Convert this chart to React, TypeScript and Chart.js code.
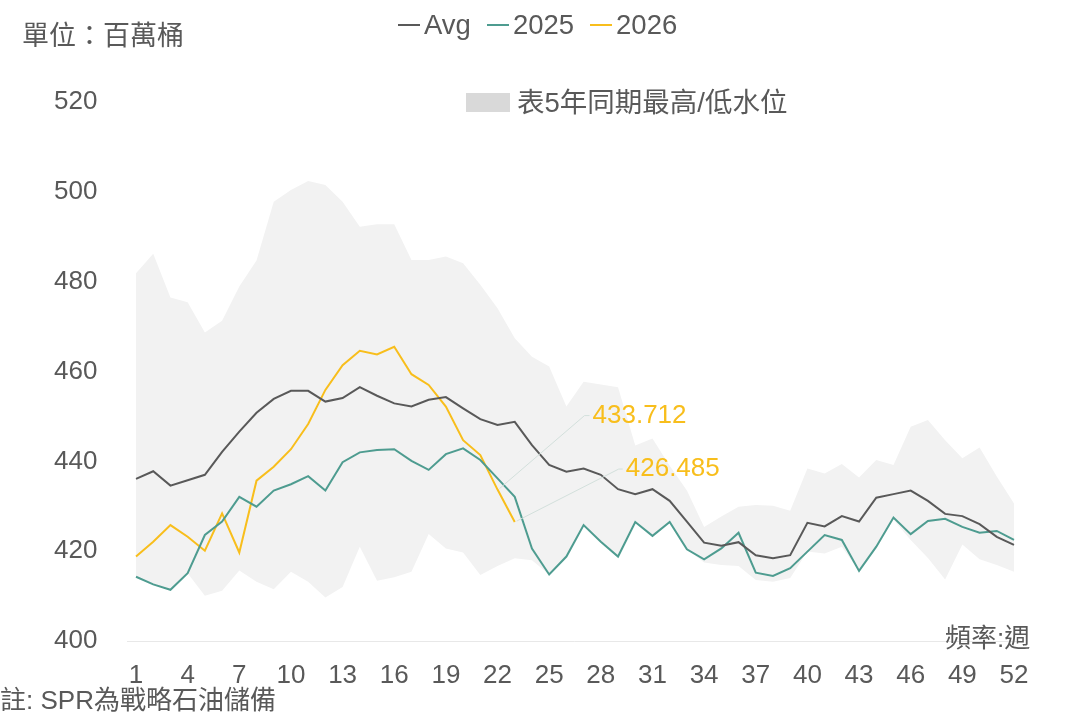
import React, { useEffect, useRef } from 'react';
import { Chart, registerables } from 'chart.js';

Chart.register(...registerables);

const weeks = ['1','2','3','4','5','6','7','8','9','10','11','12','13','14','15','16','17','18','19','20','21','22','23','24','25','26','27','28','29','30','31','32','33','34','35','36','37','38','39','40','41','42','43','44','45','46','47','48','49','50','51','52'];

const avgValues = [436.1, 437.8, 434.6, 435.8, 437.0, 442.1, 446.6, 450.8, 453.9, 455.7, 455.7, 453.3, 454.1, 456.5, 454.6, 452.9, 452.2, 453.7, 454.3, 451.8, 449.4, 448.1, 448.8, 443.6, 439.2, 437.7, 438.4, 437.0, 433.8, 432.7, 433.8, 431.2, 426.6, 421.9, 421.2, 422.0, 419.1, 418.4, 419.1, 426.3, 425.5, 427.8, 426.6, 431.9, 432.7, 433.5, 431.2, 428.3, 427.8, 426.0, 423.2, 421.4];

const values2025 = [414.3, 412.6, 411.4, 415.1, 423.6, 426.6, 432.1, 429.9, 433.5, 434.9, 436.7, 433.5, 439.8, 442.0, 442.5, 442.7, 440.1, 438.1, 441.6, 442.9, 440.3, 436.2, 432.1, 420.6, 414.8, 418.8, 425.8, 422.1, 418.8, 426.5, 423.4, 426.5, 420.4, 418.2, 420.6, 424.1, 415.2, 414.5, 416.2, 419.9, 423.6, 422.5, 415.6, 421.0, 427.5, 423.8, 426.7, 427.2, 425.4, 424.1, 424.5, 422.5];

const values2026 = [418.8, 422.1, 425.8, 423.2, 420.1, 428.4, 419.7, 435.7, 438.8, 442.7, 448.3, 455.9, 461.4, 464.6, 463.8, 465.5, 459.4, 457.0, 452.2, 444.7, 441.4, 433.712, 426.485, null, null, null, null, null, null, null, null, null, null, null, null, null, null, null, null, null, null, null, null, null, null, null, null, null, null, null, null, null];

const bandHigh = [481.9, 486.2, 476.5, 475.4, 468.7, 471.3, 478.9, 484.7, 497.8, 500.4, 502.4, 501.5, 497.8, 492.2, 492.8, 492.8, 484.8, 484.8, 485.6, 484.1, 479.3, 474.1, 467.4, 463.3, 461.1, 452.2, 457.7, 457.1, 456.5, 443.5, 445.1, 439.0, 433.5, 425.4, 427.7, 429.9, 430.3, 430.1, 429.0, 438.4, 437.3, 439.4, 436.4, 440.3, 439.2, 447.7, 449.2, 444.7, 440.7, 443.1, 436.6, 430.6];

const bandLow = [414.3, 412.6, 411.4, 415.1, 410.1, 411.2, 415.7, 413.2, 411.5, 415.4, 413.2, 409.7, 412.0, 421.0, 413.4, 414.2, 415.4, 423.8, 420.6, 419.7, 414.7, 416.7, 418.4, 418.0, 414.8, 418.8, 425.8, 422.1, 418.8, 426.5, 423.4, 426.5, 420.4, 417.5, 416.9, 416.7, 413.6, 413.2, 414.0, 419.9, 419.5, 421.0, 415.6, 420.6, 427.0, 422.5, 418.5, 413.7, 421.5, 418.2, 416.9, 415.4];

const yMin = 400;
const yMax = 520;
const yStep = 20;
const tickEvery = 3;

const COLOR_AVG = '#595959';
const COLOR_2025 = '#4E9C90';
const COLOR_2026 = '#F8BE1C';
const COLOR_BAND = '#F2F2F2';
const TEXT = '#595959';

// label offsets (relative to the labelled data point)
const lastLabels = [
  { index: 21, dx: 95, dy: -74, lead: 87 },
  { index: 22, dx: 111, dy: -53, lead: 104 },
];

const latin = '"Liberation Sans", Arial, "Noto Sans CJK TC", sans-serif';
const cjk = '"Noto Sans CJK TC", "Liberation Sans", sans-serif';

const labelPlugin = {
  id: 'lastLabels',
  afterDatasetsDraw(chart: any) {
    const meta = chart.getDatasetMeta(4);
    const ctx = chart.ctx;
    ctx.save();
    lastLabels.forEach((l) => {
      const pt = meta.data[l.index];
      if (!pt) return;
      const x = pt.x;
      const y = pt.y;
      ctx.strokeStyle = '#D3E0DC';
      ctx.lineWidth = 1;
      ctx.beginPath();
      ctx.moveTo(x + 2, y - 1);
      ctx.lineTo(x + l.lead, y + l.dy);
      ctx.lineTo(x + l.dx - 3, y + l.dy);
      ctx.stroke();
      ctx.fillStyle = COLOR_2026;
      ctx.font = '26px ' + latin;
      ctx.textAlign = 'left';
      ctx.textBaseline = 'middle';
      const v = values2026[l.index] as number;
      ctx.fillText(v.toFixed(3), x + l.dx, y + l.dy);
    });
    ctx.restore();
  },
};

function ChartCanvas() {
  const ref = useRef<HTMLCanvasElement | null>(null);
  useEffect(() => {
    if (!ref.current) return;
    const chart = new Chart(ref.current, {
      type: 'line',
      data: {
        labels: weeks,
        datasets: [
          { label: 'low', data: bandLow, borderWidth: 0, pointRadius: 0, fill: false, backgroundColor: COLOR_BAND, borderColor: 'transparent' },
          { label: '表5年同期最高/低水位', data: bandHigh, borderWidth: 0, pointRadius: 0, fill: '-1', backgroundColor: COLOR_BAND, borderColor: 'transparent' },
          { label: 'Avg', data: avgValues, borderColor: COLOR_AVG, borderWidth: 2, pointRadius: 0, fill: false, tension: 0 },
          { label: '2025', data: values2025, borderColor: COLOR_2025, borderWidth: 2, pointRadius: 0, fill: false, tension: 0 },
          { label: '2026', data: values2026, borderColor: COLOR_2026, borderWidth: 2, pointRadius: 0, fill: false, tension: 0, spanGaps: false },
        ],
      },
      options: {
        animation: false,
        responsive: true,
        maintainAspectRatio: false,
        layout: { padding: { top: 102, right: 54.4, left: 0, bottom: 0 } },
        plugins: {
          legend: { display: false },
          tooltip: { enabled: false },
          filler: { drawTime: 'beforeDatasetsDraw' },
        },
        scales: {
          x: {
            type: 'category',
            offset: true,
            grid: { display: false, drawTicks: false },
            border: { display: false },
            ticks: {
              autoSkip: false,
              maxRotation: 0,
              padding: 19,
              color: TEXT,
              font: { size: 26, family: latin },
              callback: (_v: any, i: number) => (i % tickEvery === 0 ? weeks[i] : ''),
            },
            afterFit: (s: any) => { s.height = 77; },
          },
          y: {
            min: yMin,
            max: yMax,
            grid: {
              drawTicks: false,
              color: (c: any) => (c.tick && c.tick.value === yMin ? '#E8E8E8' : 'transparent'),
            },
            border: { display: false },
            ticks: {
              stepSize: yStep,
              padding: 30,
              color: TEXT,
              font: { size: 26, family: latin },
            },
            afterFit: (s: any) => { s.width = 127.4; },
          },
        },
      },
      plugins: [labelPlugin],
    } as any);
    return () => chart.destroy();
  }, []);
  return <canvas ref={ref} />;
}

function Txt(props: { left: number; cy: number; size: number; family: string; color?: string; children: any }) {
  const h = 40;
  return (
    <div
      style={{
        position: 'absolute',
        left: props.left,
        top: props.cy - h / 2,
        height: h,
        lineHeight: h + 'px',
        fontSize: props.size,
        fontFamily: props.family,
        color: props.color || TEXT,
        whiteSpace: 'nowrap',
      }}
    >
      {props.children}
    </div>
  );
}

function LegendItem(props: { color: string; text: string }) {
  return (
    <span style={{ display: 'inline-flex', alignItems: 'center', marginRight: 16 }}>
      <span style={{ display: 'inline-block', width: 22, height: 2, background: props.color, marginRight: 4 }} />
      <span>{props.text}</span>
    </span>
  );
}

export default function App() {
  useEffect(() => {
    document.body.style.margin = '0';
  }, []);
  return (
    <div style={{ position: 'absolute', left: 0, top: 0, width: 1077, height: 718, background: '#fff', overflow: 'hidden' }}>
      <div style={{ position: 'absolute', left: 0, top: 0, width: 1077, height: 718 }}>
        <ChartCanvas />
      </div>
      <Txt left={22} cy={34} size={27} family={cjk}>單位：百萬桶</Txt>
      <div
        style={{
          position: 'absolute',
          left: 398,
          top: 5,
          height: 40,
          display: 'flex',
          alignItems: 'center',
          fontSize: 27.5,
          fontFamily: latin,
          color: TEXT,
          whiteSpace: 'nowrap',
        }}
      >
        <LegendItem color={COLOR_AVG} text="Avg" />
        <LegendItem color={COLOR_2025} text="2025" />
        <LegendItem color={COLOR_2026} text="2026" />
      </div>
      <div style={{ position: 'absolute', left: 466, top: 93, width: 44, height: 19, background: '#D9D9D9' }} />
      <Txt left={517} cy={103} size={27.5} family={latin}>表5年同期最高/低水位</Txt>
      <Txt left={945} cy={638} size={26} family={latin}>頻率:週</Txt>
      <Txt left={0} cy={700} size={26} family={latin}>註: SPR為戰略石油儲備</Txt>
    </div>
  );
}
